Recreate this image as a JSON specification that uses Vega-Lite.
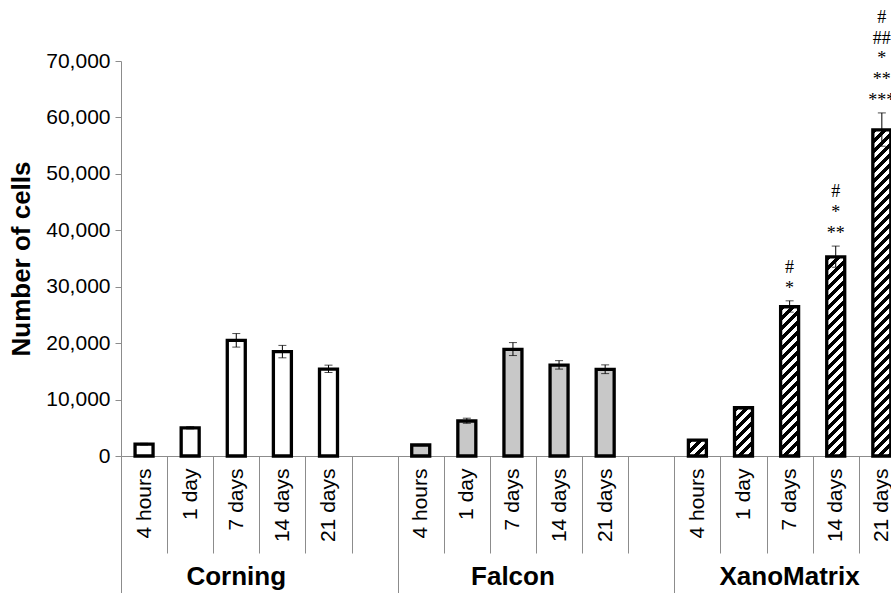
{
"$schema": "https://vega.github.io/schema/vega-lite/v6.json",
"width": 770, "height": 395,
"autosize": {"type": "none"},
"padding": {"left": 121, "top": 61, "right": 0, "bottom": 137},
"background": "white",
"config": {"view": {"stroke": null}, "font": "Liberation Sans"},
"params": [{"name": "hatchStops", "value": [
{"offset":0,"color":"#000"},{"offset":0.0125,"color":"#000"},{"offset":0.0125,"color":"#fff"},{"offset":0.025,"color":"#fff"},
{"offset":0.025,"color":"#000"},{"offset":0.0375,"color":"#000"},{"offset":0.0375,"color":"#fff"},{"offset":0.05,"color":"#fff"},
{"offset":0.05,"color":"#000"},{"offset":0.0625,"color":"#000"},{"offset":0.0625,"color":"#fff"},{"offset":0.075,"color":"#fff"},
{"offset":0.075,"color":"#000"},{"offset":0.0875,"color":"#000"},{"offset":0.0875,"color":"#fff"},{"offset":0.1,"color":"#fff"},
{"offset":0.1,"color":"#000"},{"offset":0.1125,"color":"#000"},{"offset":0.1125,"color":"#fff"},{"offset":0.125,"color":"#fff"},
{"offset":0.125,"color":"#000"},{"offset":0.1375,"color":"#000"},{"offset":0.1375,"color":"#fff"},{"offset":0.15,"color":"#fff"},
{"offset":0.15,"color":"#000"},{"offset":0.1625,"color":"#000"},{"offset":0.1625,"color":"#fff"},{"offset":0.175,"color":"#fff"},
{"offset":0.175,"color":"#000"},{"offset":0.1875,"color":"#000"},{"offset":0.1875,"color":"#fff"},{"offset":0.2,"color":"#fff"},
{"offset":0.2,"color":"#000"},{"offset":0.2125,"color":"#000"},{"offset":0.2125,"color":"#fff"},{"offset":0.225,"color":"#fff"},
{"offset":0.225,"color":"#000"},{"offset":0.2375,"color":"#000"},{"offset":0.2375,"color":"#fff"},{"offset":0.25,"color":"#fff"},
{"offset":0.25,"color":"#000"},{"offset":0.2625,"color":"#000"},{"offset":0.2625,"color":"#fff"},{"offset":0.275,"color":"#fff"},
{"offset":0.275,"color":"#000"},{"offset":0.2875,"color":"#000"},{"offset":0.2875,"color":"#fff"},{"offset":0.3,"color":"#fff"},
{"offset":0.3,"color":"#000"},{"offset":0.3125,"color":"#000"},{"offset":0.3125,"color":"#fff"},{"offset":0.325,"color":"#fff"},
{"offset":0.325,"color":"#000"},{"offset":0.3375,"color":"#000"},{"offset":0.3375,"color":"#fff"},{"offset":0.35,"color":"#fff"},
{"offset":0.35,"color":"#000"},{"offset":0.3625,"color":"#000"},{"offset":0.3625,"color":"#fff"},{"offset":0.375,"color":"#fff"},
{"offset":0.375,"color":"#000"},{"offset":0.3875,"color":"#000"},{"offset":0.3875,"color":"#fff"},{"offset":0.4,"color":"#fff"},
{"offset":0.4,"color":"#000"},{"offset":0.4125,"color":"#000"},{"offset":0.4125,"color":"#fff"},{"offset":0.425,"color":"#fff"},
{"offset":0.425,"color":"#000"},{"offset":0.4375,"color":"#000"},{"offset":0.4375,"color":"#fff"},{"offset":0.45,"color":"#fff"},
{"offset":0.45,"color":"#000"},{"offset":0.4625,"color":"#000"},{"offset":0.4625,"color":"#fff"},{"offset":0.475,"color":"#fff"},
{"offset":0.475,"color":"#000"},{"offset":0.4875,"color":"#000"},{"offset":0.4875,"color":"#fff"},{"offset":0.5,"color":"#fff"},
{"offset":0.5,"color":"#000"},{"offset":0.5125,"color":"#000"},{"offset":0.5125,"color":"#fff"},{"offset":0.525,"color":"#fff"},
{"offset":0.525,"color":"#000"},{"offset":0.5375,"color":"#000"},{"offset":0.5375,"color":"#fff"},{"offset":0.55,"color":"#fff"},
{"offset":0.55,"color":"#000"},{"offset":0.5625,"color":"#000"},{"offset":0.5625,"color":"#fff"},{"offset":0.575,"color":"#fff"},
{"offset":0.575,"color":"#000"},{"offset":0.5875,"color":"#000"},{"offset":0.5875,"color":"#fff"},{"offset":0.6,"color":"#fff"},
{"offset":0.6,"color":"#000"},{"offset":0.6125,"color":"#000"},{"offset":0.6125,"color":"#fff"},{"offset":0.625,"color":"#fff"},
{"offset":0.625,"color":"#000"},{"offset":0.6375,"color":"#000"},{"offset":0.6375,"color":"#fff"},{"offset":0.65,"color":"#fff"},
{"offset":0.65,"color":"#000"},{"offset":0.6625,"color":"#000"},{"offset":0.6625,"color":"#fff"},{"offset":0.675,"color":"#fff"},
{"offset":0.675,"color":"#000"},{"offset":0.6875,"color":"#000"},{"offset":0.6875,"color":"#fff"},{"offset":0.7,"color":"#fff"},
{"offset":0.7,"color":"#000"},{"offset":0.7125,"color":"#000"},{"offset":0.7125,"color":"#fff"},{"offset":0.725,"color":"#fff"},
{"offset":0.725,"color":"#000"},{"offset":0.7375,"color":"#000"},{"offset":0.7375,"color":"#fff"},{"offset":0.75,"color":"#fff"},
{"offset":0.75,"color":"#000"},{"offset":0.7625,"color":"#000"},{"offset":0.7625,"color":"#fff"},{"offset":0.775,"color":"#fff"},
{"offset":0.775,"color":"#000"},{"offset":0.7875,"color":"#000"},{"offset":0.7875,"color":"#fff"},{"offset":0.8,"color":"#fff"},
{"offset":0.8,"color":"#000"},{"offset":0.8125,"color":"#000"},{"offset":0.8125,"color":"#fff"},{"offset":0.825,"color":"#fff"},
{"offset":0.825,"color":"#000"},{"offset":0.8375,"color":"#000"},{"offset":0.8375,"color":"#fff"},{"offset":0.85,"color":"#fff"},
{"offset":0.85,"color":"#000"},{"offset":0.8625,"color":"#000"},{"offset":0.8625,"color":"#fff"},{"offset":0.875,"color":"#fff"},
{"offset":0.875,"color":"#000"},{"offset":0.8875,"color":"#000"},{"offset":0.8875,"color":"#fff"},{"offset":0.9,"color":"#fff"},
{"offset":0.9,"color":"#000"},{"offset":0.9125,"color":"#000"},{"offset":0.9125,"color":"#fff"},{"offset":0.925,"color":"#fff"},
{"offset":0.925,"color":"#000"},{"offset":0.9375,"color":"#000"},{"offset":0.9375,"color":"#fff"},{"offset":0.95,"color":"#fff"},
{"offset":0.95,"color":"#000"},{"offset":0.9625,"color":"#000"},{"offset":0.9625,"color":"#fff"},{"offset":0.975,"color":"#fff"},
{"offset":0.975,"color":"#000"},{"offset":0.9875,"color":"#000"},{"offset":0.9875,"color":"#fff"},{"offset":1,"color":"#fff"}
]}],
"datasets": {
"bars": [
{"key":"C|4 hours","group":"Corning","time":"4 hours","cells":2100,"low":1950,"high":2250,"sig":""},
{"key":"C|1 day","group":"Corning","time":"1 day","cells":5000,"low":4800,"high":5200,"sig":""},
{"key":"C|7 days","group":"Corning","time":"7 days","cells":20500,"low":19300,"high":21700,"sig":""},
{"key":"C|14 days","group":"Corning","time":"14 days","cells":18500,"low":17400,"high":19600,"sig":""},
{"key":"C|21 days","group":"Corning","time":"21 days","cells":15400,"low":14800,"high":16100,"sig":""},
{"key":"F|4 hours","group":"Falcon","time":"4 hours","cells":1950,"low":1850,"high":2050,"sig":""},
{"key":"F|1 day","group":"Falcon","time":"1 day","cells":6200,"low":5800,"high":6700,"sig":""},
{"key":"F|7 days","group":"Falcon","time":"7 days","cells":18900,"low":17800,"high":20100,"sig":""},
{"key":"F|14 days","group":"Falcon","time":"14 days","cells":16100,"low":15400,"high":16900,"sig":""},
{"key":"F|21 days","group":"Falcon","time":"21 days","cells":15350,"low":14600,"high":16150,"sig":""},
{"key":"X|4 hours","group":"XanoMatrix","time":"4 hours","cells":2800,"low":2700,"high":2900,"sig":""},
{"key":"X|1 day","group":"XanoMatrix","time":"1 day","cells":8550,"low":8350,"high":8750,"sig":""},
{"key":"X|7 days","group":"XanoMatrix","time":"7 days","cells":26450,"low":25500,"high":27500,"sig":"#\n*"},
{"key":"X|14 days","group":"XanoMatrix","time":"14 days","cells":35300,"low":33450,"high":37200,"sig":"#\n*\n**"},
{"key":"X|21 days","group":"XanoMatrix","time":"21 days","cells":57800,"low":54900,"high":60800,"sig":"#\n##\n*\n**\n***"}
],
"groups": [
{"key":"C|7 days","group":"Corning"},
{"key":"F|7 days","group":"Falcon"},
{"key":"X|7 days","group":"XanoMatrix"}
]
},
"data": {"name": "bars"},
"encoding": {
"x": {"field": "key", "type": "nominal",
 "scale": {"domain": ["C|4 hours","C|1 day","C|7 days","C|14 days","C|21 days","C|","F|4 hours","F|1 day","F|7 days","F|14 days","F|21 days","F|","X|4 hours","X|1 day","X|7 days","X|14 days","X|21 days","X|"], "range": [0, 830], "paddingInner": 0, "paddingOuter": 0},
 "axis": {"title": null, "labelAngle": -90, "labelExpr": "split(datum.value, '|')[1]", "labelFontSize": 21, "labelColor": "black", "labelFont": "Liberation Sans", "labelOverlap": false, "tickBand": "extent", "grid": false,
  "tickSize": {"condition": {"test": "!datum.value || indexof(['C|','F|'], datum.value) >= 0", "value": 137}, "value": 97},
  "labelPadding": {"condition": {"test": "!datum.value || indexof(['C|','F|'], datum.value) >= 0", "value": -125}, "value": -85},
  "domainColor": "#8c8c8c", "tickColor": "#8c8c8c", "tickWidth": 1, "domainWidth": 1}
}
},
"layer": [
{"mark": {"type": "bar", "size": 18, "stroke": "black", "strokeWidth": 3.3,
  "fill": {"expr": "datum.group === 'XanoMatrix' ? {gradient: 'linear', x1: 0, y1: 0, x2: 400 * 18 / (324 + pow(scale('y', 0) - scale('y', datum.cells), 2)), y2: 400 * (scale('y', 0) - scale('y', datum.cells)) / (324 + pow(scale('y', 0) - scale('y', datum.cells), 2)), stops: hatchStops} : (datum.group === 'Falcon' ? '#c8c8c8' : 'white')"}},
 "encoding": {"y": {"field": "cells", "type": "quantitative", "title": "Number of cells",
  "scale": {"domain": [0, 70000], "nice": false},
  "axis": {"values": [0,10000,20000,30000,40000,50000,60000,70000], "format": ",d", "grid": false, "domainColor": "#8c8c8c", "tickColor": "#8c8c8c", "tickSize": 6, "labelFontSize": 21, "labelColor": "black", "labelFont": "Liberation Sans", "labelPadding": 5, "titleFontSize": 26, "titleFontWeight": "bold", "titleColor": "black", "titleFont": "Liberation Sans", "titlePadding": 11}}}},
{"mark": {"type": "errorbar", "ticks": {"size": 8, "color": "black", "strokeWidth": 1}, "rule": {"color": "black", "strokeWidth": 1}},
 "encoding": {"y": {"field": "low", "type": "quantitative", "title": "Number of cells"}, "y2": {"field": "high"}}},
{"mark": {"type": "text", "baseline": "bottom", "dy": {"expr": "-3 - 20.8 * (length(split(datum.sig, '\\n')) - 1)"}, "font": "Liberation Serif", "fontSize": 18, "lineHeight": 20.8, "lineBreak": "\n", "color": "black"},
 "encoding": {"y": {"field": "high", "type": "quantitative", "title": "Number of cells"}, "text": {"field": "sig"}}},
{"data": {"name": "groups"},
 "mark": {"type": "text", "font": "Liberation Sans", "fontSize": 26, "fontWeight": "bold", "baseline": "middle", "color": "black"},
 "encoding": {"y": {"datum": -21500, "type": "quantitative"}, "text": {"field": "group"}}}
]
}
